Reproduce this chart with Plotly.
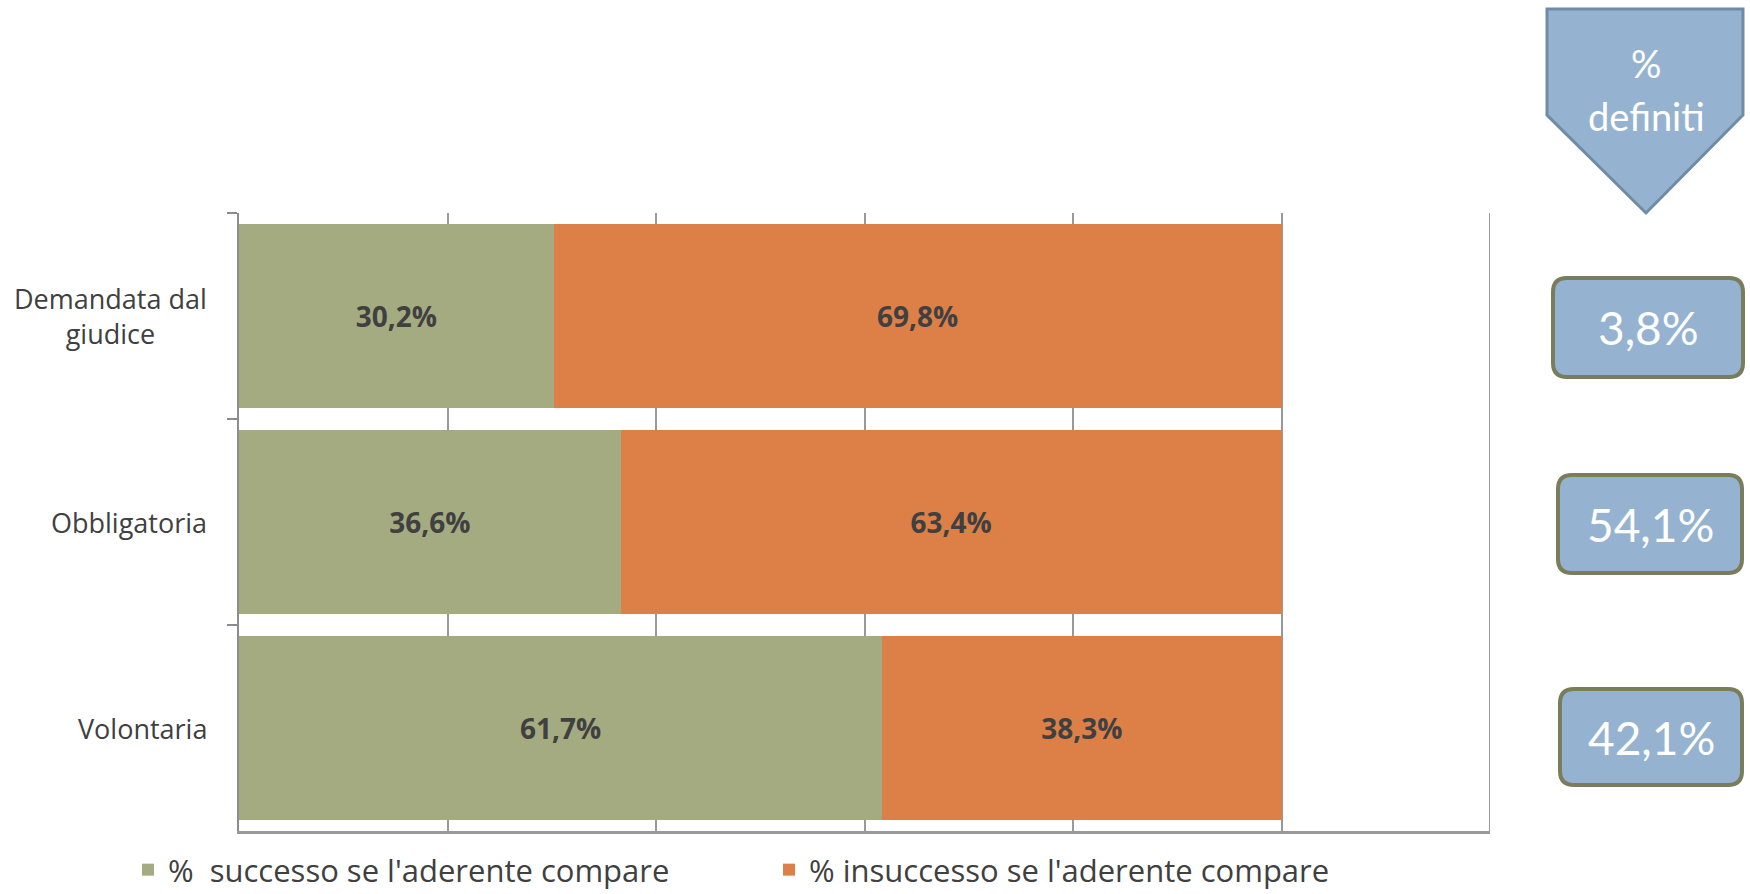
import plotly.graph_objects as go

categories = ["Demandata dal<br>giudice", "Obbligatoria", "Volontaria"]
successo = [30.2, 36.6, 61.7]
insuccesso = [69.8, 63.4, 38.3]
definiti = [3.8, 54.1, 42.1]
series_names = ["%  successo se l'aderente compare", "% insuccesso se l'aderente compare"]
panel_title = ["%", "definiti"]

W, H = 1750, 894
def px(x): return x / W
def py(y): return 1 - y / H

def fmt(v):
    return f"{v:.1f}".replace(".", ",") + "%"

GREEN = "#A5AB81"
ORANGE = "#DD8047"
TXT = "#404040"
GRID = "#999999"

fig = go.Figure()
for vals, name, col in [(successo, series_names[0], GREEN), (insuccesso, series_names[1], ORANGE)]:
    fig.add_trace(go.Bar(
        y=categories, x=vals, orientation="h", name=name,
        marker=dict(color=col, line=dict(width=0)),
        text=[fmt(v) for v in vals], texttemplate="<b>%{text}</b>",
        textposition="inside", insidetextanchor="middle",
        textfont=dict(family="Open Sans", size=28, color=TXT),
        hoverinfo="skip",
    ))

fig.update_layout(
    width=W, height=H, margin=dict(l=0, r=0, t=0, b=0, autoexpand=False),
    paper_bgcolor="white", plot_bgcolor="white",
    barmode="stack", bargap=0.107,
    showlegend=True,
    legend=dict(orientation="h", x=px(128), y=py(870), yanchor="middle", xanchor="left",
                font=dict(family="Open Sans", size=31, color=TXT),
                entrywidth=596, traceorder="normal", itemclick=False),
    xaxis=dict(domain=[px(239), px(1490)], range=[0, 120], dtick=20, showgrid=True,
               gridcolor=GRID, gridwidth=1.5, showticklabels=False, zeroline=False,
               showline=True, linecolor=GRID, linewidth=2.5, fixedrange=True),
    yaxis=dict(domain=[py(831), py(213)], autorange="reversed", showticklabels=False,
               showline=True, linecolor="#8C8C8C", linewidth=2, ticks="outside",
               tickson="boundaries", ticklen=10, tickcolor="#8C8C8C", tickwidth=2,
               showgrid=False, zeroline=False, fixedrange=True),
)

# right border line at 120%
fig.add_shape(type="line", xref="x", yref="paper", x0=120, x1=120, y0=py(831), y1=py(213),
              line=dict(color=GRID, width=2))

# category labels
for c in categories:
    fig.add_annotation(x=px(209), y=c, xref="paper", yref="y", text=c, showarrow=False,
                       xanchor="right", yanchor="middle", align="center",
                       font=dict(family="Open Sans", size=27, color=TXT))

# pentagon header
pts = [(1547, 9), (1743, 9), (1743, 115), (1646, 213), (1547, 115)]
path = "M " + " L ".join(f"{px(x)},{py(y)}" for x, y in pts) + " Z"
fig.add_shape(type="path", xref="paper", yref="paper", path=path,
              fillcolor="#95B3D1", line=dict(color="#6F8BA5", width=3))
fig.add_annotation(x=px(1646), y=py(63), xref="paper", yref="paper", text=panel_title[0],
                   showarrow=False, xanchor="center", yanchor="middle",
                   font=dict(family="Lato", size=38, color="white"))
fig.add_annotation(x=px(1646), y=py(116), xref="paper", yref="paper", text=panel_title[1],
                   showarrow=False, xanchor="center", yanchor="middle",
                   font=dict(family="Lato", size=38, color="white"))

def rrect(x0, y0, x1, y1, r):
    p = [f"M {px(x0 + r)},{py(y0)}",
         f"L {px(x1 - r)},{py(y0)}", f"Q {px(x1)},{py(y0)} {px(x1)},{py(y0 + r)}",
         f"L {px(x1)},{py(y1 - r)}", f"Q {px(x1)},{py(y1)} {px(x1 - r)},{py(y1)}",
         f"L {px(x0 + r)},{py(y1)}", f"Q {px(x0)},{py(y1)} {px(x0)},{py(y1 - r)}",
         f"L {px(x0)},{py(y0 + r)}", f"Q {px(x0)},{py(y0)} {px(x0 + r)},{py(y0)}", "Z"]
    return " ".join(p)

boxes = [(1553, 278, 1743, 377), (1558, 475, 1742, 573), (1560, 689, 1742, 785)]
for (x0, y0, x1, y1), v in zip(boxes, definiti):
    fig.add_shape(type="path", xref="paper", yref="paper", path=rrect(x0, y0, x1, y1, 14),
                  fillcolor="#95B3D1", line=dict(color="#7A7D5C", width=4))
    fig.add_annotation(x=px((x0 + x1) / 2), y=py((y0 + y1) / 2), xref="paper", yref="paper",
                       text=fmt(v), showarrow=False, xanchor="center", yanchor="middle",
                       font=dict(family="Lato", size=46, color="white"))

fig.write_html("out.html", config={"displayModeBar": False},
               post_script="document.body.style.margin='0';")
